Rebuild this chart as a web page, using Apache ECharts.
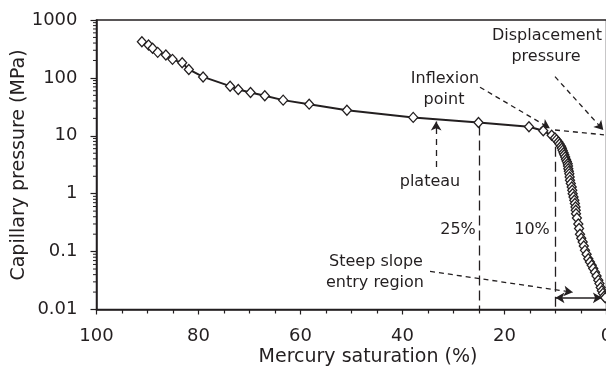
<!DOCTYPE html>
<html>
<head>
<meta charset="utf-8">
<script src="https://cdn.jsdelivr.net/npm/echarts@6/dist/echarts.min.js"></script>
<style>
html,body{margin:0;padding:0;background:#fff;}
#chart{width:606px;height:378px;}
</style>
</head>
<body>
<div id="chart"></div>
<script>
// Mercury saturation (%) and capillary pressure (MPa)
const saturation = [91.1, 89.8, 89.0, 88.0, 86.4, 85.1, 83.2, 81.9, 79.1, 73.8, 72.2, 69.8, 67.0, 63.4, 58.3, 50.9, 37.9, 25.1, 15.2, 12.4, 10.75,
  10.1, 9.8, 9.45, 9.2, 8.92, 8.75, 8.59, 8.42, 8.27, 8.1, 7.94, 7.78, 7.61, 7.55, 7.49, 7.38, 7.29, 7.22, 7.16, 7.0,
  6.82, 6.72, 6.63, 6.47, 6.31, 6.2, 6.08, 6.03, 5.98, 5.8, 5.53, 5.38, 5.2, 4.95, 4.67, 4.45, 4.22, 3.9, 3.57, 3.25,
  2.9, 2.6, 2.25, 1.95, 1.61, 1.38, 1.14, 0.9, 0.69, 0.45, 0.25];
const pressure = [421, 369, 324, 276, 248, 209, 182, 140, 104, 72, 63, 56, 49, 41.3, 35.2, 27.7, 20.8, 17.0, 14.3, 12.2, 10.2,
  9.2, 8.5, 7.8, 7.2, 6.6, 6.1, 5.6, 5.1, 4.7, 4.3, 3.9, 3.6, 3.3, 3.0, 2.7, 2.45, 2.2, 1.95, 1.7, 1.5,
  1.31, 1.15, 1.0, 0.88, 0.77, 0.68, 0.59, 0.52, 0.45, 0.38, 0.30, 0.25, 0.20, 0.17, 0.146, 0.125, 0.105, 0.09, 0.075, 0.066,
  0.058, 0.051, 0.044, 0.038, 0.032, 0.028, 0.024, 0.021, 0.019, 0.017, 0.016];
const xTicks = [0, 20, 40, 60, 80, 100];
const yTicks = [0.01, 0.1, 1, 10, 100, 1000];
const yMinorTicks = [0.02,0.03,0.04,0.05,0.06,0.07,0.08,0.09, 0.2,0.3,0.4,0.5,0.6,0.7,0.8,0.9,
  2,3,4,5,6,7,8,9, 20,30,40,50,60,70,80,90, 200,300,400,500,600,700,800,900];

// annotation anchors (data space)
const displacementArrow = [[10.1, 105], [0.63, 12.6]];
const inflexionArrow = [[24.8, 69], [11.1, 13.5]];
const tangentLine = [[10.1, 12.6], [0.5, 10.4]];
const plateauArrow = [[33.4, 2.9], [33.4, 17.6]];
const line25 = [[25, 15], [25, 0.01]];
const line10 = [[10, 6.5], [10, 0.01]];
const steepArrow = [[34.6, 0.0456], [6.6, 0.0198]];
const rangeArrow = [[10, 0.0159], [0.9, 0.0159]];

const FONT = '"DejaVu Sans", sans-serif';
const INK = '#231f20';

const chart = echarts.init(document.getElementById('chart'), null, {renderer: 'canvas'});
const pts = saturation.map((s, i) => [s, pressure[i]]);

function ml(pair, dash, arrowStart, arrowEnd, width) {
  return [
    {coord: pair[0], symbol: arrowStart ? 'arrow' : 'none', symbolSize: [8, 9],
     lineStyle: {color: INK, width: width || 1.3, type: dash}},
    {coord: pair[1], symbol: arrowEnd ? 'arrow' : 'none', symbolSize: [8, 9]}
  ];
}

chart.setOption({
  animation: false,
  backgroundColor: '#fff',
  grid: {left: 96.5, top: 20, width: 510, height: 289.5, containLabel: false, outerBoundsMode: 'none',
    show: true, borderColor: INK, borderWidth: 1.5, backgroundColor: 'transparent'},
  xAxis: {
    type: 'value', min: 0, max: 100, interval: 20, inverse: true,
    axisLine: {show: true, onZero: false, lineStyle: {color: INK, width: 1.5}},
    axisTick: {show: true, length: 5, lineStyle: {color: INK, width: 1.2}},
    minorTick: {show: true, splitNumber: 4, length: 4, lineStyle: {color: INK, width: 1.2}},
    splitLine: {show: false},
    axisLabel: {color: INK, fontSize: 18, fontFamily: FONT, margin: 18, hideOverlap: false,
      formatter: v => xTicks.includes(v) ? String(v) : ''}
  },
  yAxis: {
    type: 'log', logBase: 10, min: 0.01, max: 1000, position: 'left',
    axisLine: {show: true, onZero: false, lineStyle: {color: INK, width: 1.5}},
    axisTick: {show: true, length: 6, lineStyle: {color: INK, width: 1.2}},
    splitLine: {show: false},
    axisLabel: {color: INK, fontSize: 18, fontFamily: FONT, margin: 19,
      formatter: v => { const t = yTicks.find(k => Math.abs(Math.log10(k) - Math.log10(v)) < 1e-6); return t === undefined ? '' : String(t); }}
  },
  series: [
    {
      type: 'custom', silent: true, clip: false,
      data: yMinorTicks.map(v => [100, v]),
      renderItem: function (params, api) {
        const p = api.coord([api.value(0), api.value(1)]);
        return {type: 'line', shape: {x1: p[0] - 3.5, y1: p[1], x2: p[0], y2: p[1]},
          style: {stroke: INK, lineWidth: 1}};
      }
    },
    {
      type: 'line', data: pts, silent: true,
      symbol: 'diamond', symbolSize: [9, 10], showSymbol: true,
      lineStyle: {color: INK, width: 2},
      itemStyle: {color: '#fff', borderColor: INK, borderWidth: 1.3},
      z: 5,
      markLine: {
        silent: true, animation: false, label: {show: false}, symbol: 'none', precision: 6,
        data: [
          ml(line25, [10, 5], false, false, 1.3),
          ml(line10, [10, 5], false, false, 1.3),
          ml(displacementArrow, [5, 4], false, true, 1.3),
          ml(inflexionArrow, [5, 4], false, true, 1.3),
          ml(tangentLine, [5, 4], false, false, 1.3),
          ml(plateauArrow, [6, 5], false, true, 1.3),
          ml(steepArrow, [5, 4], false, true, 1.3),
          ml(rangeArrow, 'solid', true, true, 1.5)
        ]
      }
    }
  ],
  graphic: [
    {type: 'text', x: 19, y: 165, rotation: Math.PI / 2, style: {text: 'Capillary pressure (MPa)', font: '19px ' + FONT, fill: INK, textAlign: 'center', textVerticalAlign: 'middle'}},
    {type: 'text', x: 368, y: 357, style: {text: 'Mercury saturation (%)', font: '19px ' + FONT, fill: INK, textAlign: 'center', textVerticalAlign: 'middle'}},
    {type: 'text', x: 547, y: 36, style: {text: 'Displacement', font: '16px ' + FONT, fill: INK, textAlign: 'center', textVerticalAlign: 'middle'}},
    {type: 'text', x: 546, y: 57, style: {text: 'pressure', font: '16px ' + FONT, fill: INK, textAlign: 'center', textVerticalAlign: 'middle'}},
    {type: 'text', x: 445, y: 79, style: {text: 'Inflexion', font: '16px ' + FONT, fill: INK, textAlign: 'center', textVerticalAlign: 'middle'}},
    {type: 'text', x: 444, y: 100, style: {text: 'point', font: '16px ' + FONT, fill: INK, textAlign: 'center', textVerticalAlign: 'middle'}},
    {type: 'text', x: 430, y: 182, style: {text: 'plateau', font: '16px ' + FONT, fill: INK, textAlign: 'center', textVerticalAlign: 'middle'}},
    {type: 'text', x: 458, y: 230, style: {text: '25%', font: '16px ' + FONT, fill: INK, textAlign: 'center', textVerticalAlign: 'middle'}},
    {type: 'text', x: 532, y: 230, style: {text: '10%', font: '16px ' + FONT, fill: INK, textAlign: 'center', textVerticalAlign: 'middle'}},
    {type: 'text', x: 376, y: 262, style: {text: 'Steep slope', font: '16px ' + FONT, fill: INK, textAlign: 'center', textVerticalAlign: 'middle'}},
    {type: 'text', x: 375, y: 283, style: {text: 'entry region', font: '16px ' + FONT, fill: INK, textAlign: 'center', textVerticalAlign: 'middle'}}
  ]
});
</script>
</body>
</html>
